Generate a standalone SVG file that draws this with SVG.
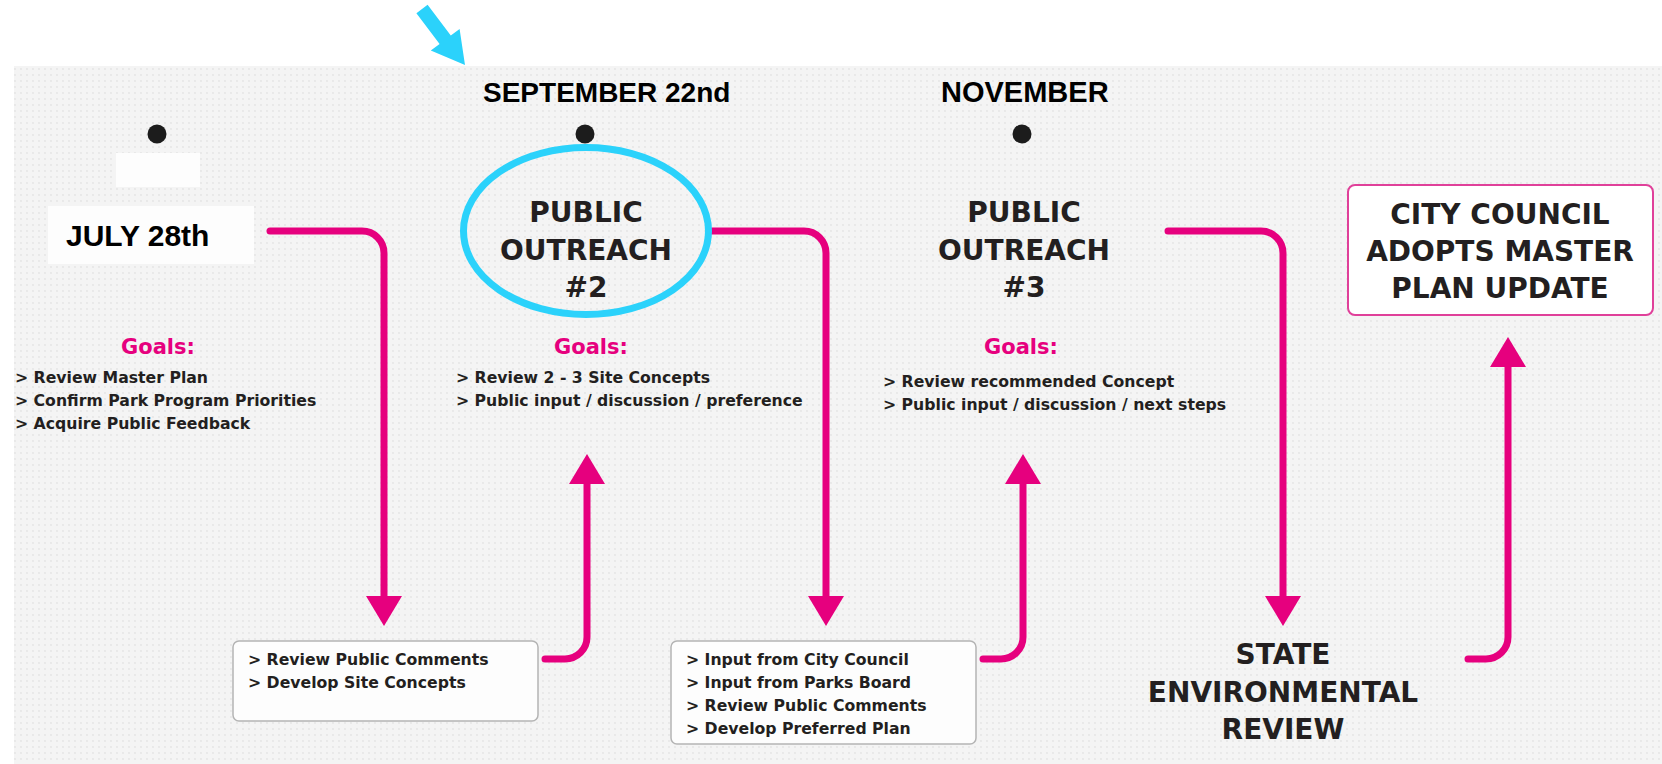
<svg xmlns="http://www.w3.org/2000/svg" width="1662" height="764" viewBox="0 0 1662 764">
<defs>
<pattern id="dots" width="6" height="6" patternUnits="userSpaceOnUse">
<rect width="6" height="6" fill="#f4f4f4"/>
<circle cx="3" cy="3" r="0.9" fill="#e4e4e4"/>
</pattern>
<marker id="ah" viewBox="0 0 30 36" refX="0" refY="18" markerWidth="30" markerHeight="36" markerUnits="userSpaceOnUse" orient="auto">
<path d="M0,0 L30,18 L0,36 Z" fill="#e6007e"/>
</marker>
<style>
.date{font-family:"Liberation Sans",Arial,sans-serif;font-weight:700;fill:#000}
.title{font-family:"DejaVu Sans",sans-serif;font-weight:700;font-size:28px;fill:#231f20;text-anchor:middle}
.goals{font-family:"DejaVu Sans",sans-serif;font-weight:700;font-size:21px;fill:#e6007e;text-anchor:middle}
.item{font-family:"DejaVu Sans",sans-serif;font-weight:700;font-size:15.7px;fill:#231f20}
.conn{fill:none;stroke:#e6007e;stroke-width:7;stroke-linecap:round}
.box{fill:#fdfdfd;stroke:#b4b4b4;stroke-width:1.5}
.dot{fill:#1c1c1c}
</style>
</defs>
<rect width="1662" height="764" fill="#ffffff"/>
<rect x="14" y="66" width="1648" height="698" fill="url(#dots)"/>
<rect x="116" y="153" width="84" height="34" fill="#fdfdfd"/>
<rect x="48" y="206" width="206" height="58" fill="#fdfdfd"/>

<g id="highlight-arrow">
<polygon points="427.6,4.8 450.8,35.6 459.6,29 465,65 430.8,50.6 439.6,44 416.4,13.2" fill="#2bd2fb"/>
</g>

<g id="connectors">
<path class="conn" d="M270,231 H362 A22,22 0 0 1 384,253 V596" marker-end="url(#ah)"/>
<path class="conn" d="M712,231 H804 A22,22 0 0 1 826,253 V596" marker-end="url(#ah)"/>
<path class="conn" d="M1168,231 H1261 A22,22 0 0 1 1283,253 V596" marker-end="url(#ah)"/>
<path class="conn" d="M545,659 H565 A22,22 0 0 0 587,637 V484" marker-end="url(#ah)"/>
<path class="conn" d="M983,659 H1001 A22,22 0 0 0 1023,637 V484" marker-end="url(#ah)"/>
<path class="conn" d="M1468,659 H1486 A22,22 0 0 0 1508,637 V367" marker-end="url(#ah)"/>
</g>

<g id="july">
<circle class="dot" cx="157" cy="134" r="9.5"/>
<text class="date" x="66" y="246" font-size="30">JULY 28th</text>
<text class="goals" x="158" y="354">Goals:</text>
<text class="item" x="15" y="383">&gt; Review Master Plan</text>
<text class="item" x="15" y="406">&gt; Confirm Park Program Priorities</text>
<text class="item" x="15" y="429">&gt; Acquire Public Feedback</text>
</g>

<g id="september">
<text class="date" x="483" y="102" font-size="28">SEPTEMBER 22nd</text>
<circle class="dot" cx="585" cy="134" r="9.5"/>
<ellipse cx="586" cy="231" rx="122.5" ry="83.5" fill="none" stroke="#2bd2fb" stroke-width="7"/>
<text class="title" x="586" y="222">PUBLIC</text>
<text class="title" x="586" y="260">OUTREACH</text>
<text class="title" x="586" y="297">#2</text>
<text class="goals" x="591" y="354">Goals:</text>
<text class="item" x="456" y="383">&gt; Review 2 - 3 Site Concepts</text>
<text class="item" x="456" y="406">&gt; Public input / discussion / preference</text>
</g>

<g id="november">
<text class="date" x="941" y="102" font-size="29">NOVEMBER</text>
<circle class="dot" cx="1022" cy="134" r="9.5"/>
<text class="title" x="1024" y="222">PUBLIC</text>
<text class="title" x="1024" y="260">OUTREACH</text>
<text class="title" x="1024" y="297">#3</text>
<text class="goals" x="1021" y="354">Goals:</text>
<text class="item" x="883" y="387">&gt; Review recommended Concept</text>
<text class="item" x="883" y="410">&gt; Public input / discussion / next steps</text>
</g>

<g id="box-site-concepts">
<rect class="box" x="233" y="641" width="305" height="80" rx="6"/>
<text class="item" x="248" y="665">&gt; Review Public Comments</text>
<text class="item" x="248" y="688">&gt; Develop Site Concepts</text>
</g>

<g id="box-preferred-plan">
<rect class="box" x="671" y="641" width="305" height="103" rx="6"/>
<text class="item" x="686" y="665">&gt; Input from City Council</text>
<text class="item" x="686" y="688">&gt; Input from Parks Board</text>
<text class="item" x="686" y="711">&gt; Review Public Comments</text>
<text class="item" x="686" y="734">&gt; Develop Preferred Plan</text>
</g>

<g id="state-review">
<text class="title" x="1283" y="664">STATE</text>
<text class="title" x="1283" y="702">ENVIRONMENTAL</text>
<text class="title" x="1283" y="739">REVIEW</text>
</g>

<g id="city-council">
<rect x="1348" y="185" width="305" height="130" rx="7" fill="#ffffff" stroke="#e0409a" stroke-width="2"/>
<text class="title" x="1500" y="224">CITY COUNCIL</text>
<text class="title" x="1500" y="261">ADOPTS MASTER</text>
<text class="title" x="1500" y="298">PLAN UPDATE</text>
</g>
</svg>
